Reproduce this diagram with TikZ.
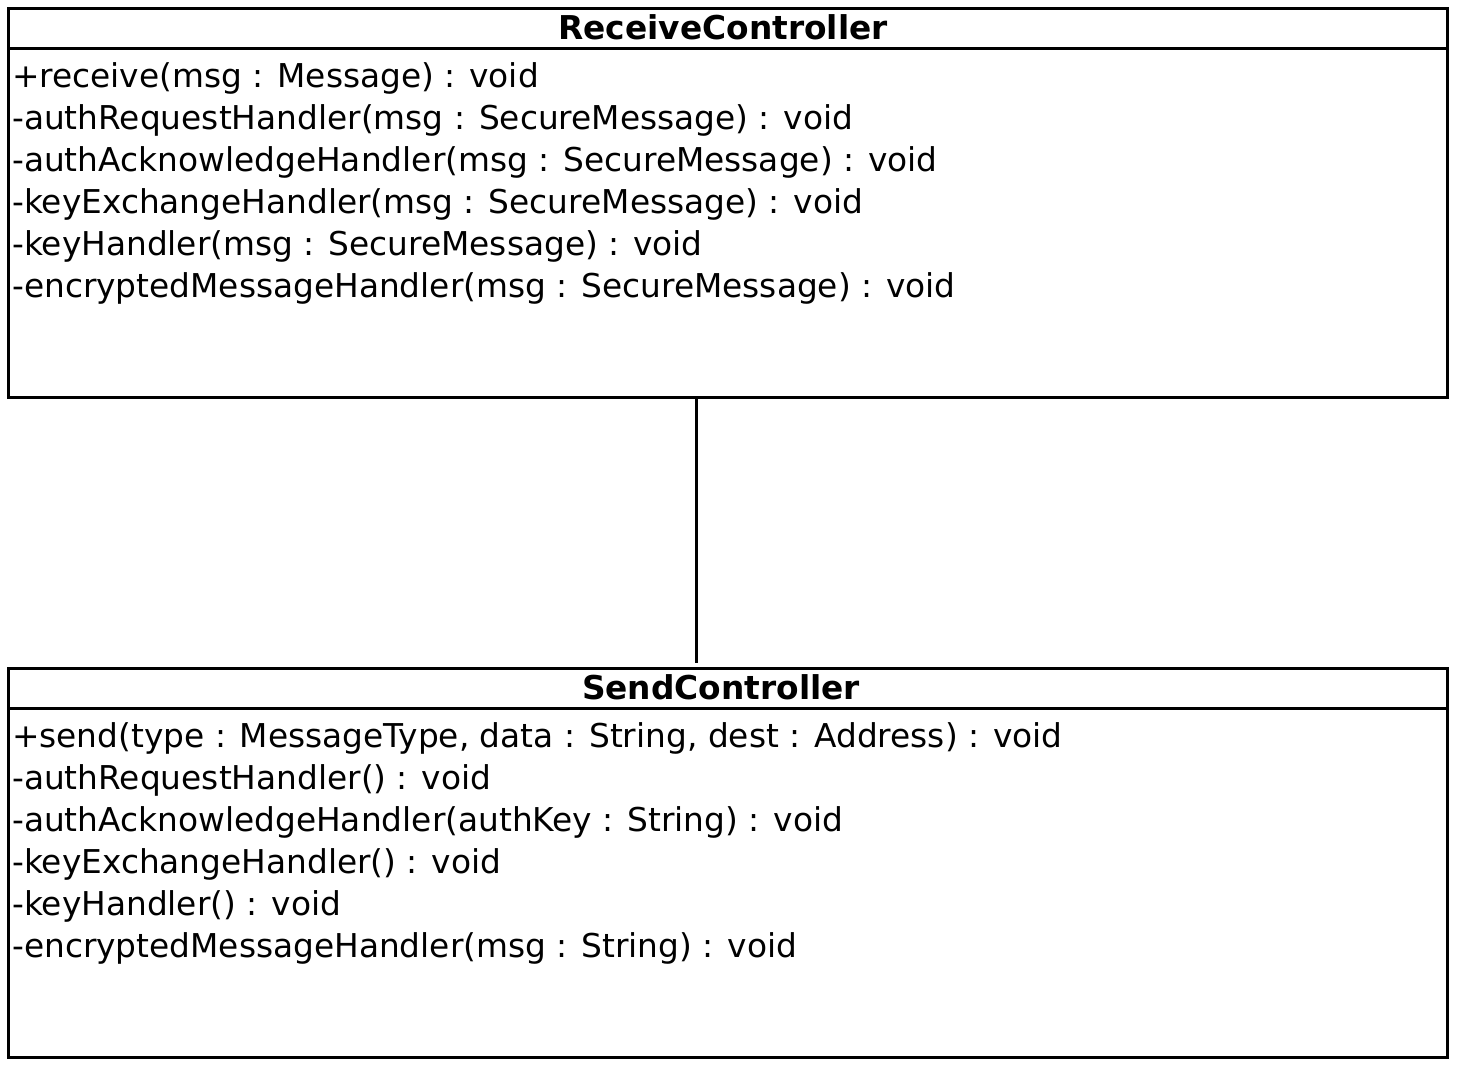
\documentclass[tikz,border=0pt]{standalone}
\usepackage{fontspec}
\setmainfont{DejaVu Sans}
\begin{document}
\begin{tikzpicture}[x=1pt,y=-1pt,
  cls/.style={draw=black,line width=3pt,minimum width=1439pt,minimum height=389pt,anchor=north west,inner sep=0pt},
  sep/.style={draw=black,line width=3pt},
  title/.style={anchor=base,font=\fontsize{32.8}{38}\selectfont\bfseries,inner sep=0pt},
  op/.style={anchor=base west,font=\fontsize{32.8}{38}\selectfont,inner sep=0pt},
  conn/.style={draw=black,line width=3pt}]
\useasboundingbox (0,0) rectangle (1458,1068);
% ReceiveController
\node[cls] (rc) at (7,7) {};
\draw[sep] (7,48) -- (1446,48);
\node[title] (rct) at (723,39) {ReceiveController};
\node[op] (r1) at (12,87) {+receive(msg : Message) : void};
\node[op] (r2) at (12,129) {-authRequestHandler(msg : SecureMessage) : void};
\node[op] (r3) at (12,171) {-authAcknowledgeHandler(msg : SecureMessage) : void};
\node[op] (r4) at (12,213) {-keyExchangeHandler(msg : SecureMessage) : void};
\node[op] (r5) at (12,255) {-keyHandler(msg : SecureMessage) : void};
\node[op] (r6) at (12,297) {-encryptedMessageHandler(msg : SecureMessage) : void};
% SendController
\node[cls] (sc) at (7,667) {};
\draw[sep] (7,708) -- (1446,708);
\node[title] (sct) at (721,699) {SendController};
\node[op] (s1) at (12,747) {+send(type : MessageType, data : String, dest : Address) : void};
\node[op] (s2) at (12,789) {-authRequestHandler() : void};
\node[op] (s3) at (12,831) {-authAcknowledgeHandler(authKey : String) : void};
\node[op] (s4) at (12,873) {-keyExchangeHandler() : void};
\node[op] (s5) at (12,915) {-keyHandler() : void};
\node[op] (s6) at (12,957) {-encryptedMessageHandler(msg : String) : void};
% association
\coordinate (ra) at (696,396);
\coordinate (sa) at (696,663);
\draw[conn] (ra) -- (sa);
\end{tikzpicture}
\end{document}
